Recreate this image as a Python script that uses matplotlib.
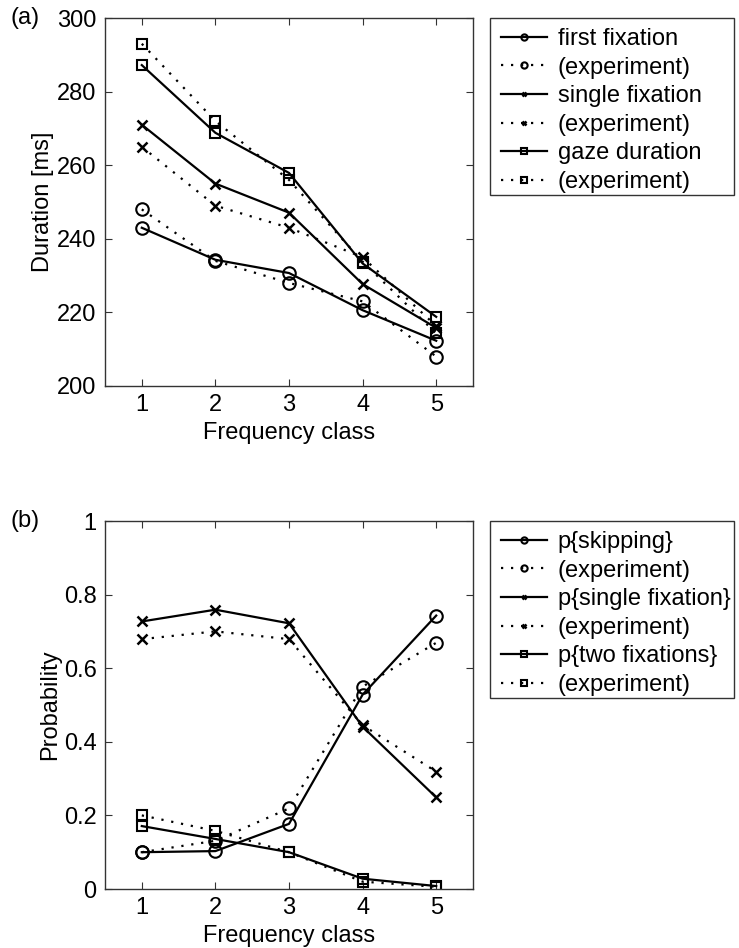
import matplotlib
matplotlib.use('Agg')
import matplotlib.pyplot as plt
from matplotlib.patches import Rectangle

plt.rcParams['font.family'] = ['Liberation Sans', 'DejaVu Sans']
plt.rcParams['font.size'] = 17

# frequency classes
freq_class = [1, 2, 3, 4, 5]

# (a) durations in ms
first_fix_model = [243, 234.3, 230.7, 220.6, 212.3]
first_fix_exp = [248, 234, 228, 223, 208]
single_fix_model = [271, 255, 247.1, 227.7, 215.8]
single_fix_exp = [265, 249, 243, 235, 216.3]
gaze_model = [287.2, 268.8, 257.9, 233.3, 218.8]
gaze_exp = [293, 272, 256, 233.8, 214.3]

# (b) probabilities
p_skip_model = [0.10, 0.103, 0.177, 0.528, 0.743]
p_skip_exp = [0.10, 0.131, 0.219, 0.55, 0.669]
p_single_model = [0.727, 0.759, 0.722, 0.441, 0.249]
p_single_exp = [0.679, 0.70, 0.679, 0.445, 0.319]
p_two_model = [0.171, 0.136, 0.10, 0.028, 0.008]
p_two_exp = [0.20, 0.158, 0.10, 0.02, 0.006]

labels_a = ['first fixation', '(experiment)', 'single fixation', '(experiment)',
            'gaze duration', '(experiment)']
labels_b = ['p{skipping}', '(experiment)', 'p{single fixation}', '(experiment)',
            'p{two fixations}', '(experiment)']

W, H = 739, 948
fig = plt.figure(figsize=(W / 100, H / 100), dpi=100)

dotted = (0, (1, 3.5))
edge = '#333333'


def make_axes(top_px):
    left, right, bottom = 105, 473, top_px + 368
    return fig.add_axes([left / W, 1 - bottom / H, (right - left) / W, 368 / H])


def draw(ax, series, labels):
    markers = ['o', 'o', 'x', 'x', 's', 's']
    sizes = [9, 9, 6.5, 6.5, 7.5, 7.5]
    for i, ys in enumerate(series):
        ls = '-' if i % 2 == 0 else dotted
        mew = 1.8 if markers[i] == 'x' else 1.5
        ax.plot(freq_class, ys, linestyle=ls, color='black', lw=1.6,
                marker=markers[i], ms=sizes[i], mfc='none', mec='black', mew=mew,
                label=labels[i])
    ax.set_xlim(0.5, 5.5)
    ax.set_xticks(freq_class)
    ax.tick_params(direction='in', top=True, right=True, length=5, width=0.8,
                   pad=6, labelsize=17, color=edge)
    for s in ax.spines.values():
        s.set_linewidth(1.0)
        s.set_color(edge)
    ax.set_xlabel('Frequency class', fontsize=17, labelpad=4)


ax1 = make_axes(18)
draw(ax1, [first_fix_model, first_fix_exp, single_fix_model, single_fix_exp,
           gaze_model, gaze_exp], labels_a)
ax1.set_ylim(200, 300)
ax1.set_yticks([200, 220, 240, 260, 280, 300])
ax1.set_ylabel('Duration [ms]', fontsize=17, labelpad=2)

ax2 = make_axes(521)
draw(ax2, [p_skip_model, p_skip_exp, p_single_model, p_single_exp,
           p_two_model, p_two_exp], labels_b)
ax2.set_ylim(0, 1)
ax2.set_yticks([0, 0.2, 0.4, 0.6, 0.8, 1])
ax2.set_yticklabels(['0', '0.2', '0.4', '0.6', '0.8', '1'])
ax2.set_ylabel('Probability', fontsize=17, labelpad=2)

for ax, top_px in [(ax1, 18), (ax2, 521)]:
    # legend box drawn separately, MATLAB style wide frame
    fig.patches.append(Rectangle((490 / W, 1 - (top_px + 177) / H), 244 / W, 177 / H,
                                 transform=fig.transFigure, fill=False,
                                 edgecolor=edge, lw=1.0))
    ax.legend(loc='upper left', bbox_to_anchor=(501 / W, 1 - (top_px + 10) / H),
              bbox_transform=fig.transFigure, borderaxespad=0, borderpad=0,
              frameon=False, handlelength=1.95, handletextpad=0.45,
              labelspacing=0.28, markerscale=0.5, fontsize=17)

fig.text(10 / W, 1 - 18 / H, '(a)', fontsize=17, va='center', ha='left')
fig.text(10 / W, 1 - 521 / H, '(b)', fontsize=17, va='center', ha='left')

fig.savefig('out.png', dpi=100)
